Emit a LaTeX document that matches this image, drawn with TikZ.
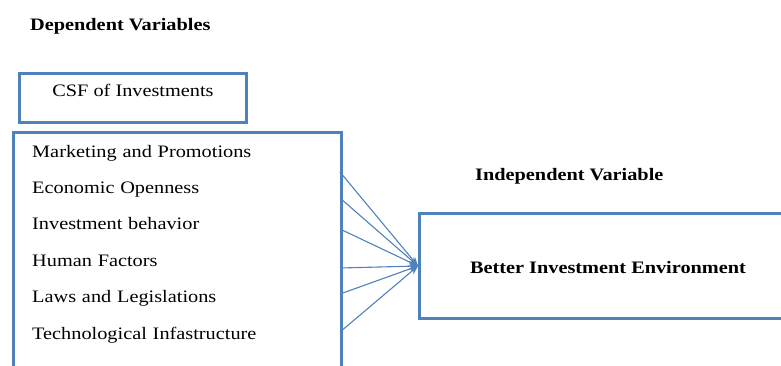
\documentclass[tikz,border=0pt]{standalone}
\usepackage{fontspec}
\setmainfont{Liberation Serif}[FakeStretch=1.16]
\usepackage{xcolor}
\usetikzlibrary{arrows.meta,positioning}
\definecolor{boxblue}{HTML}{4F81BD}
\newcommand{\figfont}{\fontsize{17.5}{21}\selectfont}

\begin{document}
\begin{tikzpicture}[
    x=1pt, y=-1pt,
    node distance=18pt,
    heading/.style={anchor=base west, inner sep=0pt, font=\figfont\bfseries},
    item/.style={inner sep=0pt, text width=290pt, align=left,
                 text height=13pt, text depth=5pt, font=\figfont},
    frame/.style={draw=boxblue, line width=3pt},
    arr/.style={-{Stealth[length=9pt,width=7pt]}, draw=boxblue, line width=1.1pt}
]
\useasboundingbox (0,0) rectangle (781,365);
\clip (0,0) rectangle (781,365);
\node[heading] (dep) at (30,30) {Dependent Variables};
\node[frame, anchor=north west, inner sep=0pt, minimum width=227pt,
      text height=23pt, text depth=26pt, font=\figfont] (csf) at (18,72) {CSF of Investments};
\node[frame, anchor=north west, minimum width=328pt, minimum height=260pt] (factors) at (12,131) {};
\node[item, anchor=base west] (mkt) at (32,157) {Marketing and Promotions};
\node[item, below=of mkt] (econ) {Economic Openness};
\node[item, below=of econ] (behav) {Investment behavior};
\node[item, below=of behav] (human) {Human Factors};
\node[item, below=of human] (laws) {Laws and Legislations};
\node[item, below=of laws] (tech) {Technological Infastructure};
\node[heading] (indep) at (475,180) {Independent Variable};
\node[frame, anchor=north west, inner sep=0pt, minimum width=377pt,
      text height=60pt, text depth=45pt, font=\figfont\bfseries] (env) at (418,212) {Better Investment Environment};
\coordinate (s1) at (340,172);
\coordinate (s2) at (340,198);
\coordinate (s3) at (340,229);
\coordinate (s4) at (340,268);
\coordinate (s5) at (340,294);
\coordinate (s6) at (340,332);
\draw[arr] (s1) -- (env.west);
\draw[arr] (s2) -- (env.west);
\draw[arr] (s3) -- (env.west);
\draw[arr] (s4) -- (env.west);
\draw[arr] (s5) -- (env.west);
\draw[arr] (s6) -- (env.west);
\end{tikzpicture}
\end{document}
